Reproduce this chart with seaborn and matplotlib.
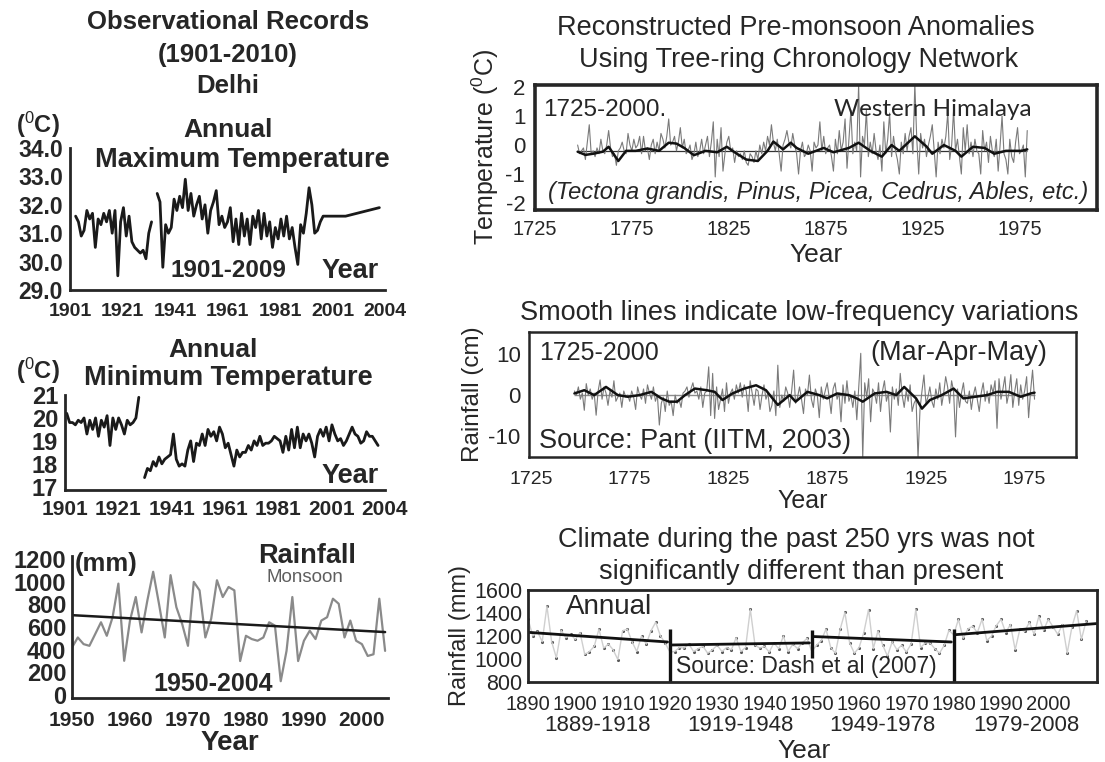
import numpy as np
import pandas as pd
import matplotlib
matplotlib.use('Agg')
import matplotlib.pyplot as plt
import seaborn as sns

# ---------------- data ----------------
# Delhi annual maximum temperature (two record pieces + sparse tail)
max_years_a = list(range(1901, 1929))
max_temp_a = [31.6, 31.4, 30.9, 31.1, 31.8, 31.5, 31.7, 30.5, 31.5, 31.3,
              31.7, 31.4, 31.8, 31.0, 31.8, 29.5, 31.4, 31.9, 30.9, 31.6,
              30.7, 30.5, 30.4, 30.3, 30.4, 30.1, 31.0, 31.4]
max_years_b = list(range(1930, 1990)) + [1997, 2009]
max_temp_b = [32.4, 32.1, 29.8, 31.3, 31.0, 31.2, 32.2, 31.8, 32.3, 31.9,
              32.9, 31.8, 32.4, 31.6, 32.0, 32.3, 31.5, 32.0, 31.0, 31.8,
              32.1, 32.5, 31.3, 31.6, 31.2, 31.4, 31.9, 30.7, 31.5, 30.6,
              31.7, 30.9, 31.5, 30.6, 31.6, 31.2, 31.8, 30.8, 31.7, 30.9,
              31.4, 30.5, 31.2, 30.8, 31.5, 30.9, 31.6, 30.8, 31.2, 30.5,
              29.9, 31.3, 31.0, 31.7, 32.6, 32.0, 31.0, 31.1, 31.4, 31.6,
              31.6, 31.9]
year_labels_delhi = ['1901', '1921', '1941', '1961', '1981', '2001', '2004']
max_yticks = [29.0, 30.0, 31.0, 32.0, 33.0, 34.0]

# Delhi annual minimum temperature
min_years_a = list(range(1901, 1927))
min_temp_a = [20.2, 19.8, 19.8, 19.7, 19.9, 19.8, 20.0, 19.3, 19.9, 19.5,
              20.0, 19.2, 19.9, 19.6, 20.1, 18.8, 20.0, 19.5, 20.0, 19.7,
              19.3, 19.9, 19.7, 19.8, 20.0, 20.9]
min_years_b = list(range(1928, 2010))
min_temp_b = [17.4, 17.8, 17.7, 18.1, 17.9, 18.3, 18.0, 18.2, 18.3, 18.4,
              19.3, 18.2, 17.9, 18.0, 17.9, 18.6, 19.0, 18.1, 18.9, 18.8,
              19.3, 18.8, 19.5, 19.2, 19.4, 19.0, 19.6, 19.3, 18.7, 18.9,
              18.4, 17.9, 18.6, 18.3, 18.5, 18.5, 18.8, 18.6, 19.0, 18.8,
              19.2, 18.8, 18.9, 18.9, 19.0, 19.2, 19.1, 19.0, 18.5, 19.2,
              18.6, 19.5, 18.7, 19.6, 18.7, 19.3, 19.0, 19.3, 18.9, 18.3,
              19.2, 19.5, 19.2, 19.6, 19.0, 19.7, 19.3, 19.0, 19.1, 18.8,
              19.0, 19.3, 19.6, 19.3, 19.2, 18.9, 19.0, 19.4, 19.2, 19.2,
              19.0, 18.8]
min_yticks = [17, 18, 19, 20, 21]

# Monsoon rainfall 1950-2004 (mm) and its linear trend
rain_years = list(range(1950, 2005))
rain_mm = [418, 507, 448, 433, 537, 642, 522, 687, 985, 300,
           657, 866, 552, 836, 1090, 806, 507, 1060, 776, 627,
           433, 1000, 925, 507, 672, 1015, 866, 955, 925, 298,
           522, 493, 478, 507, 642, 612, 119, 388, 866, 298,
           478, 567, 493, 657, 687, 851, 806, 507, 657, 478,
           448, 343, 358, 851, 388]
rain_trend_years = [1950, 2004]
rain_trend_mm = [705, 555]
rain_yticks = [0, 200, 400, 600, 800, 1000, 1200]
rain_xticks = [1950, 1960, 1970, 1980, 1990, 2000]

# Tree-ring temperature reconstruction (anomaly, deg C)
tree_years = list(range(1747, 1980))
tree_temp = [0.0, -0.3, -0.2, -0.1, -0.5, 0.1, 0.7, -0.3, -0.2, -0.4,
             -0.1, -0.3, 0.2, -0.2, -0.3, 0.0, 0.5, -0.1, -0.4, -0.3,
             -0.7, -0.2, -0.1, 0.1, -0.2, -0.3, 0.4, 0.0, -0.2, 0.2,
             -0.1, 0.0, 0.3, -0.3, 0.3, -0.2, -0.1, -0.5, 0.0, 0.2,
             -0.3, 0.1, -0.2, 0.4, 0.2, -0.1, 0.3, 0.9, 0.0, 0.1,
             0.3, -0.2, 0.1, 0.6, -0.1, 0.2, -0.3, -0.2, 0.0, -0.5,
             -0.3, 0.1, -0.4, -0.2, 0.2, -0.3, 0.0, 0.3, -0.4, 0.1,
             0.8, -1.1, 0.2, -0.4, 0.6, -0.9, -0.3, 0.1, 0.3, -0.2,
             -0.1, -0.6, -0.2, -0.4, -0.3, -0.5, -0.2, -0.6, -0.7, -0.3,
             -0.4, -0.6, -0.2, -0.5, 0.0, -0.3, 0.1, -0.2, 0.3, 0.0,
             0.7, 0.1, -0.2, 0.2, -0.3, -0.9, 0.0, 0.2, 0.5, 0.1,
             -0.1, 0.4, 0.0, -0.3, -1.0, -0.2, 0.1, -0.4, -0.3, 0.0,
             -0.2, -0.9, 0.1, -0.1, 0.0, 0.8, -0.2, 0.3, -0.3, -0.1,
             0.0, -0.4, -0.9, 0.2, -0.3, 0.5, -0.2, 0.1, 0.9, -0.8,
             0.2, 1.2, -0.3, 0.1, -0.2, 2.1, -1.1, 0.3, 0.0, 1.2,
             -0.4, 0.1, -0.3, 0.4, -0.2, -0.5, 0.0, -0.9, 0.8, -0.3,
             0.2, 1.1, -0.4, 0.3, -0.2, -0.5, -1.0, 0.1, -0.3, 0.4,
             -0.2, 0.3, 0.6, -0.3, 2.1, 0.2, -1.0, 0.4, -0.1, 0.2,
             -0.4, 0.0, 0.3, 0.7, -0.2, -1.1, 0.1, -0.3, 0.2, -0.1,
             0.3, 1.1, -0.5, 0.0, 1.2, -0.2, 0.2, -0.4, -1.0, 0.6,
             -0.2, 0.7, -0.3, 0.1, -0.4, 0.2, -0.2, -0.3, -1.0, 0.5,
             -0.2, 0.1, -0.6, 0.3, -0.2, -0.4, 0.2, -0.9, 0.0, 1.0,
             -0.3, -0.5, -1.0, 0.2, -0.4, -0.6, 0.1, 0.6, -0.3, -0.2,
             0.0, -1.1, 0.5]
tree_smooth_years = [1747, 1751, 1755, 1760, 1763, 1768, 1772, 1777, 1783, 1789,
                     1794, 1798, 1802, 1807, 1813, 1819, 1824, 1828, 1834, 1840,
                     1845, 1848, 1853, 1857, 1860, 1866, 1872, 1874, 1879, 1887,
                     1892, 1898, 1904, 1909, 1913, 1921, 1927, 1930, 1936, 1942,
                     1945, 1951, 1957, 1962, 1968, 1976, 1979]
tree_smooth = [-0.23, -0.34, -0.30, -0.23, -0.06, -0.55, -0.20, -0.20, -0.12, -0.20,
               0.08, 0.05, -0.10, -0.35, -0.20, -0.25, -0.06, -0.25, -0.50, -0.55,
               -0.20, 0.12, -0.15, 0.08, -0.10, -0.30, -0.15, -0.10, -0.25, -0.10,
               0.08, -0.20, -0.40, 0.00, -0.20, 0.30, -0.05, -0.30, 0.00, -0.20,
               -0.40, -0.06, -0.10, -0.30, -0.20, -0.20, -0.15]
tree_mean = -0.2
tree_yticks = [-2, -1, 0, 1, 2]
recon_xticks = [1725, 1775, 1825, 1875, 1925, 1975]

# Pre-monsoon (MAM) rainfall reconstruction (cm)
mam_years = list(range(1747, 1981))
mam_rain = [1.0, 0.0, 2.0, -1.0, 0.5, -3.7, 2.8, 0.0, 1.5, -1.0,
            0.5, -4.9, 1.0, 3.7, -1.0, 2.0, 0.5, -2.5, 1.0, -0.5,
            3.5, -1.5, -0.5, 0.5, -3.0, 1.0, -0.5, 0.0, -1.5, 1.0,
            -0.5, -3.5, 2.0, 0.0, -1.0, 1.5, -2.0, 2.5, 0.5, -1.0,
            2.0, -1.5, 0.0, -7.3, -2.0, -0.5, -4.0, 1.0, -2.5, -1.5,
            -5.0, 0.0, -2.0, -1.0, -3.0, 0.5, 1.0, 2.0, -0.5, 1.5,
            3.0, 0.5, 1.0, -1.0, 2.0, -3.0, 0.5, 1.0, 6.9, -5.0,
            5.3, -5.7, 2.0, -3.5, -1.0, 1.5, -4.0, 3.0, -2.0, 0.5,
            1.5, -1.0, 2.5, 0.5, 3.0, -0.5, 2.5, 1.0, -4.0, 3.5,
            0.5, -2.5, 1.5, 1.0, -3.5, 0.0, 2.5, -1.0, 0.5, -4.0,
            -2.5, 1.0, -5.0, 7.3, -3.0, 0.0, -1.5, 2.0, 0.5, -3.0,
            1.0, 6.1, -2.0, -0.5, 2.0, -1.0, -4.5, 1.5, 0.0, 4.9,
            -1.0, -3.0, 1.5, 0.0, -5.5, 2.0, -1.0, 1.0, 3.0, -0.5,
            -4.5, 1.5, 3.0, -1.0, 0.5, -6.5, 2.5, -2.0, 3.5, -1.5,
            0.0, -3.0, 1.0, -6.0, 2.0, 10.2, -15.5, 3.0, -0.5, 4.0,
            -6.5, 1.5, 0.5, -2.0, 3.0, -4.0, 1.0, 3.5, -1.5, 0.5,
            -9.0, 2.0, -1.0, 1.5, -2.5, 5.3, 0.0, -3.0, 1.0, -1.5,
            2.5, -4.0, -2.0, -1.0, -15.5, -3.5, 1.0, 4.9, -2.0, -0.5,
            2.0, -1.5, -3.0, 1.5, -1.0, 3.0, -2.5, 0.5, 4.5, 2.0,
            -2.0, 3.5, 1.0, -10.2, 1.5, -3.0, 0.5, 3.0, -1.5, -2.0,
            1.0, -3.5, 0.0, 2.0, -1.0, -4.0, 0.5, 3.0, -1.5, 1.0,
            -2.0, 2.5, 0.5, 3.5, -8.1, 4.0, -1.0, 1.5, 4.5, -2.0,
            0.5, 5.0, -3.0, 1.0, 4.0, -2.5, 2.5, -1.0, 1.0, 4.5,
            -5.5, 1.0, 6.1, -1.0]
mam_smooth_years = [1747, 1752, 1757, 1763, 1769, 1774, 1780, 1786, 1791, 1795,
                    1799, 1803, 1808, 1814, 1818, 1822, 1827, 1833, 1839, 1844,
                    1850, 1856, 1859, 1865, 1871, 1875, 1880, 1886, 1890, 1893,
                    1899, 1905, 1910, 1914, 1920, 1923, 1927, 1933, 1939, 1944,
                    1950, 1956, 1961, 1967, 1973, 1978, 1980]
mam_smooth = [0.4, 1.2, 0.0, 2.0, 0.0, -0.4, 0.0, 0.8, -0.8, -1.6,
              -1.6, 0.0, 1.6, 1.2, 0.8, -1.2, 0.4, 1.6, 2.4, 1.2,
              -2.4, 0.0, -1.6, 0.8, 0.0, -0.8, 0.4, 0.0, -0.8, -1.6,
              0.4, 0.8, 0.0, 2.0, -0.8, -3.3, -1.2, 0.0, 1.6, -0.8,
              -0.4, 0.0, 0.8, 0.8, -0.4, 0.4, 0.6]
mam_yticks = [-10, 0, 10]

# Annual rainfall 1890-2008 (mm), Dash et al. (2007), with 30-yr trends
dash_years = list(range(1890, 2009))
dash_rain = [1350, 1200, 1240, 1150, 1460, 1150, 1010, 1250, 1185, 1215,
             1170, 1230, 1040, 1065, 1110, 1260, 1095, 1130, 1080, 995,
             1245, 1260, 1150, 1065, 1200, 1130, 1245, 1320, 1200, 1140,
             1060, 1065, 1100, 1095, 1130, 1065, 1090, 1110, 1050, 1080,
             1120, 1065, 1100, 1080, 1185, 1065, 1100, 1432, 1120, 1095,
             1110, 1060, 1140, 1090, 1200, 1065, 1130, 1090, 1140, 1180,
             1065, 1120, 1160, 1260, 1100, 1050, 1260, 1405, 1140, 1050,
             1100, 1230, 1430, 1090, 1245, 1120, 1025, 1150, 1080, 1120,
             1060, 1130, 1432, 1100, 1140, 1140, 1090, 1050, 1120, 1250,
             1210, 1345, 1180, 1260, 1285, 1230, 1345, 1160, 1200, 1290,
             1345, 1230, 1300, 1080, 1260, 1240, 1320, 1215, 1370, 1250,
             1345, 1280, 1215, 1300, 1050, 1280, 1420, 1170, 1330]
dash_period_start = [1890, 1920.5, 1950.5, 1980.5]
dash_period_end = [1919.5, 1949.5, 1979.5, 2010.2]
dash_trend_start = [1232, 1122, 1195, 1212]
dash_trend_end = [1148, 1140, 1148, 1308]
dash_breaks = [1920, 1950, 1980]
dash_break_low = [800, 1010, 800]
dash_break_high = [1262, 1250, 1262]
dash_periods = ['1889-1918', '1919-1948', '1949-1978', '1979-2008']
dash_yticks = [800, 1000, 1200, 1400, 1600]
dash_xticks = list(range(1890, 2010, 10))

# ---------------- style ----------------
sns.set_style('white')
plt.rcParams['font.family'] = ['Liberation Sans', 'DejaVu Sans']
plt.rcParams['mathtext.fontset'] = 'custom'
plt.rcParams['mathtext.rm'] = 'Liberation Sans'
plt.rcParams['mathtext.it'] = 'Liberation Sans:italic'

INK = '#262626'
BOLD = dict(family=['Liberation Sans', 'DejaVu Sans'], weight='bold', color=INK)
PLAIN = dict(family=['Liberation Sans', 'DejaVu Sans'], color=INK)

W, H = 1105, 762
fig = plt.figure(figsize=(W / 100, H / 100), dpi=100)
fig.patch.set_facecolor('white')


def px_axes(x0, y0, x1, y1):
    return fig.add_axes([x0 / W, 1 - y1 / H, (x1 - x0) / W, (y1 - y0) / H])


def ftext(x, y, s, size, font, **kw):
    fig.text(x / W, 1 - y / H, s, ha=kw.pop('ha', 'center'), va='center',
             fontsize=size, **font, **kw)


def left_axis_style(ax):
    for side in ['top', 'right']:
        ax.spines[side].set_visible(False)
    for side in ['left', 'bottom']:
        ax.spines[side].set_color(INK)
        ax.spines[side].set_linewidth(2.0)
    ax.set_facecolor('none')


def box_style(ax, lw):
    for side in ['top', 'right', 'left', 'bottom']:
        ax.spines[side].set_visible(True)
        ax.spines[side].set_color(INK)
        ax.spines[side].set_linewidth(lw)
    ax.set_facecolor('none')


# ---------------- left column titles ----------------
ftext(228, 22, 'Observational Records', 18.5, BOLD)
ftext(228, 55, '(1901-2010)', 18.5, BOLD)
ftext(228, 86, 'Delhi', 18.5, BOLD)

# ---------------- panel 1: maximum temperature ----------------
ax1 = px_axes(70, 148, 385, 290)
df_max = pd.DataFrame({'year': max_years_a + max_years_b,
                       'temp': max_temp_a + max_temp_b,
                       'piece': ['a'] * len(max_years_a) + ['b'] * len(max_years_b)})
sns.lineplot(data=df_max, x='year', y='temp', units='piece', estimator=None,
             color='#1a1a1a', linewidth=2.0, ax=ax1)
ax1.set_xlim(1899, 2011)
ax1.set_ylim(29, 34)
ax1.set_yticks(max_yticks)
ax1.set_yticklabels([f'{v:.1f}' for v in max_yticks], fontsize=16.5, **BOLD)
ax1.set_xticks(np.linspace(1899, 2011, len(year_labels_delhi)))
ax1.set_xticklabels(year_labels_delhi, fontsize=14, **BOLD)
ax1.tick_params(axis='y', direction='in', length=3, width=1.2, pad=5)
ax1.tick_params(axis='x', length=0, pad=9)
ax1.set_xlabel('')
ax1.set_ylabel('')
left_axis_style(ax1)
ftext(16, 125, r'($^{0}$C)', 17, BOLD, ha='left')
ftext(228, 130, 'Annual', 19, BOLD)
ftext(242, 160, 'Maximum Temperature', 19.5, BOLD)
ftext(228, 271, '1901-2009', 17.5, BOLD)
ftext(350, 271, 'Year', 19.5, BOLD)

# ---------------- panel 2: minimum temperature ----------------
ax2 = px_axes(65, 395, 385, 490)
df_min = pd.DataFrame({'year': min_years_a + min_years_b,
                       'temp': min_temp_a + min_temp_b,
                       'piece': ['a'] * len(min_years_a) + ['b'] * len(min_years_b)})
sns.lineplot(data=df_min, x='year', y='temp', units='piece', estimator=None,
             color='#1a1a1a', linewidth=2.0, ax=ax2)
ax2.set_xlim(1900.4, 2011.4)
ax2.set_ylim(16.86, 21.0)
ax2.set_yticks(min_yticks)
ax2.set_yticklabels([str(v) for v in min_yticks], fontsize=17, **BOLD)
ax2.set_xticks(np.linspace(1900.4, 2011.4, len(year_labels_delhi)))
ax2.set_xticklabels(year_labels_delhi, fontsize=15, **BOLD)
ax2.tick_params(axis='y', direction='in', length=3, width=1.2, pad=5)
ax2.tick_params(axis='x', length=0, pad=7)
ax2.set_xlabel('')
ax2.set_ylabel('')
left_axis_style(ax2)
ftext(213, 350, 'Annual', 19, BOLD)
ftext(16, 371, r'($^{0}$C)', 17, BOLD, ha='left')
ftext(228, 378, 'Minimum Temperature', 19.5, BOLD)
ftext(350, 476, 'Year', 19.5, BOLD)

# ---------------- panel 3: monsoon rainfall ----------------
ax3 = px_axes(72, 556, 388, 698)
sns.lineplot(x=rain_years, y=rain_mm, color='#8a8a8a', linewidth=1.6, ax=ax3)
sns.lineplot(x=rain_trend_years, y=rain_trend_mm, color='#1a1a1a', linewidth=1.8, ax=ax3)
ax3.set_xlim(1950, 2004.5)
ax3.set_ylim(-30, 1230)
ax3.set_yticks(rain_yticks)
ax3.set_yticklabels([str(v) for v in rain_yticks], fontsize=17, **BOLD)
ax3.set_xticks(rain_xticks)
ax3.set_xticklabels([str(v) for v in rain_xticks], fontsize=15, **BOLD)
ax3.tick_params(axis='y', direction='out', length=3, width=1.2, pad=1)
ax3.tick_params(axis='x', direction='in', length=4, width=2, pad=9)
ax3.set_xlabel('Year', fontsize=20, labelpad=0, **BOLD)
ax3.set_ylabel('')
left_axis_style(ax3)
ftext(75, 564, '(mm)', 18.5, BOLD, ha='left')
ftext(307, 556, 'Rainfall', 19.5, BOLD)
ftext(305, 578, 'Monsoon', 13.5, dict(family=['Liberation Sans'], color='#5e5e5e'))
ftext(213, 684, '1950-2004', 18, BOLD)

# ---------------- panel 4: tree-ring temperature ----------------
ax4 = px_axes(535, 85, 1097, 210)
ax4.hlines(tree_mean, tree_years[0], tree_years[-1], color='#333333', linewidth=0.9)
sns.lineplot(x=tree_years, y=tree_temp, color='#7a7a7a', linewidth=0.8, ax=ax4)
sns.lineplot(x=tree_smooth_years, y=tree_smooth, color='#111111', linewidth=1.8, ax=ax4)
ax4.set_xlim(1725, 2015)
ax4.set_ylim(-2.24, 2.07)
ax4.set_yticks(tree_yticks)
ax4.set_yticklabels([str(v) for v in tree_yticks], fontsize=16, **PLAIN)
ax4.set_xticks(recon_xticks)
ax4.set_xticklabels([str(v) for v in recon_xticks], fontsize=14.5, **PLAIN)
ax4.tick_params(axis='both', direction='out', length=3, width=1, pad=4)
ax4.set_xlabel('Year', fontsize=19, labelpad=3, **PLAIN)
ax4.set_ylabel(r'Temperature ($^{0}$C)', fontsize=18, labelpad=3, **PLAIN)
box_style(ax4, 2.6)
ftext(796, 28, 'Reconstructed Pre-monsoon Anomalies', 19.5, PLAIN)
ftext(799, 60, 'Using Tree-ring Chronology Network', 19.5, PLAIN)
ftext(543, 110, '1725-2000.', 17.5, PLAIN, ha='left')
ftext(933, 110, 'Western Himalaya', 17.5, dict(family=['Lato', 'DejaVu Sans'], color=INK))
ftext(818, 193, '(Tectona grandis, Pinus, Picea, Cedrus, Ables, etc.)', 17,
      dict(family=['Liberation Sans', 'DejaVu Sans'], style='italic', color=INK))

# ---------------- panel 5: MAM rainfall ----------------
ax5 = px_axes(529, 332, 1076, 457)
ax5.hlines(0, mam_years[0], mam_years[-1], color='#8c8c8c', linewidth=1.0)
sns.lineplot(x=mam_years, y=mam_rain, color='#7a7a7a', linewidth=0.8, ax=ax5)
sns.lineplot(x=mam_smooth_years, y=mam_smooth, color='#111111', linewidth=1.8, ax=ax5)
ax5.set_xlim(1724, 2001)
ax5.set_ylim(-15.1, 15.4)
ax5.set_yticks(mam_yticks)
ax5.set_yticklabels([str(v) for v in mam_yticks], fontsize=16, **PLAIN)
ax5.set_xticks(recon_xticks)
ax5.set_xticklabels([str(v) for v in recon_xticks], fontsize=14, **PLAIN)
ax5.set_xticks(list(range(1750, 2001, 50)), minor=True)
ax5.set_yticks([-5, 5], minor=True)
ax5.tick_params(axis='both', which='both', direction='out', length=3, width=1, pad=3)
ax5.tick_params(axis='x', which='major', pad=7)
ax5.set_xlabel('Year', fontsize=18, labelpad=1, **PLAIN)
ax5.set_ylabel('Rainfall (cm)', fontsize=17.5, labelpad=3, **PLAIN)
box_style(ax5, 1.8)
ftext(799, 313, 'Smooth lines indicate low-frequency variations', 19.5, PLAIN)
ftext(539, 353, '1725-2000', 18, PLAIN, ha='left')
ftext(959, 353, '(Mar-Apr-May)', 19.5, PLAIN)
ftext(539, 441, 'Source: Pant (IITM, 2003)', 19.5, PLAIN, ha='left')

# ---------------- panel 6: annual rainfall by 30-yr period ----------------
ax6 = px_axes(528, 590, 1097, 682)
sns.lineplot(x=dash_years, y=dash_rain, color='#cfcfcf', linewidth=1.0, ax=ax6)
sns.scatterplot(x=dash_years, y=dash_rain, color='#555555', s=5, linewidth=0, ax=ax6)
for x0, x1, y0, y1 in zip(dash_period_start, dash_period_end, dash_trend_start, dash_trend_end):
    sns.lineplot(x=[x0, x1], y=[y0, y1], color='#111111', linewidth=2.0, ax=ax6)
ax6.vlines(dash_breaks, dash_break_low, dash_break_high, color='#111111', linewidth=2.4)
ax6.set_xlim(1890, 2010.3)
ax6.set_ylim(800, 1600)
ax6.set_yticks(dash_yticks)
ax6.set_yticklabels([str(v) for v in dash_yticks], fontsize=15.5, **PLAIN)
ax6.set_xticks(dash_xticks)
ax6.set_xticklabels([str(v) for v in dash_xticks], fontsize=14.5, **PLAIN)
ax6.tick_params(axis='x', direction='in', length=3, width=1, pad=9)
ax6.tick_params(axis='y', direction='out', length=2, width=1, pad=2)
ax6.set_xlabel('')
ax6.set_ylabel('Rainfall (mm)', fontsize=17, labelpad=2, **PLAIN)
box_style(ax6, 2.0)
period_mid = [(a + b) / 2 for a, b in zip(dash_period_start, dash_period_end)]
for xm, lab in zip(period_mid, dash_periods):
    ax6.text(xm, -0.47, lab, transform=ax6.get_xaxis_transform(), ha='center',
             va='center', fontsize=16, **PLAIN)
ftext(796, 540, 'Climate during the past 250 yrs was not', 19.5, PLAIN)
ftext(801, 572, 'significantly different than present', 19.5, PLAIN)
ftext(566, 607, 'Annual', 20, PLAIN, ha='left')
ftext(806, 667, 'Source: Dash et al (2007)', 16.5, PLAIN)
ftext(804, 751, 'Year', 19, PLAIN)

fig.savefig('out.png', dpi=100, facecolor='white')
